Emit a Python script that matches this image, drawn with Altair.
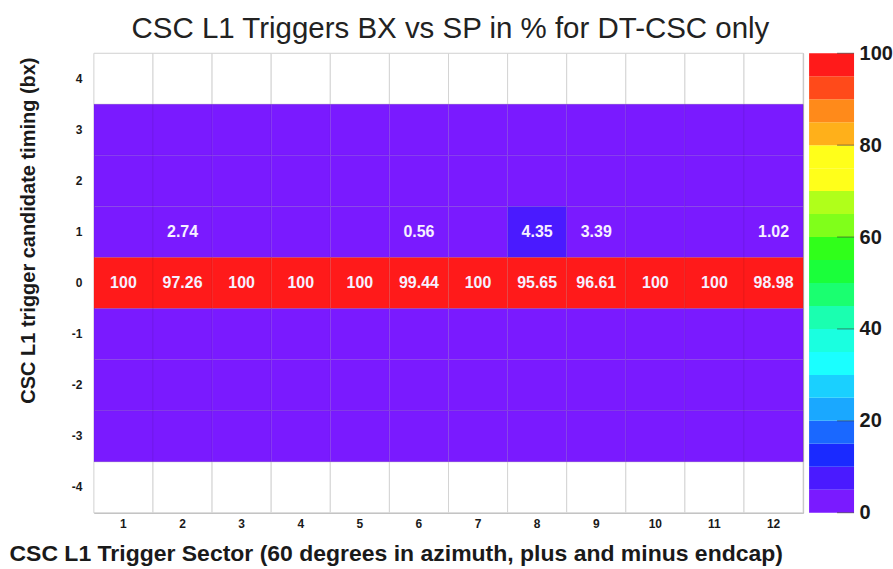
import altair as alt
import pandas as pd

# Histogram contents: percentage of CSC L1 triggers per sector and bunch crossing
sectors = [1, 2, 3, 4, 5, 6, 7, 8, 9, 10, 11, 12]
bx_rows = [4, 3, 2, 1, 0, -1, -2, -3, -4]
filled_rows = [3, 2, 1, 0, -1, -2, -3]
empty_rows = [4, -4]
bx0_pct = [100, 97.26, 100, 100, 100, 99.44, 100, 95.65, 96.61, 100, 100, 98.98]
bx1_pct = [0, 2.74, 0, 0, 0, 0.56, 0, 4.35, 3.39, 0, 0, 1.02]
other_pct = [0, 0, 0, 0, 0, 0, 0, 0, 0, 0, 0, 0]

# ROOT-like rainbow palette, 20 contour levels from 0 to 100
palette = [
    "#7a1aff", "#4a1aff", "#1a2aff", "#1a68ff", "#1aa8ff",
    "#1ad0ff", "#1affff", "#1affe0", "#1affb0", "#1aff70",
    "#1aff3a", "#30ff1a", "#80ff1a", "#b0ff1a", "#ffff1a",
    "#ffff1a", "#ffb01a", "#ff8a1a", "#ff4a1a", "#ff1a1a",
]
thresholds = [4, 10, 15, 20, 25, 30, 35, 40, 45, 50, 55, 60, 65, 70, 75, 80, 85, 90, 95]
band_lo = [0, 5, 10, 15, 20, 25, 30, 35, 40, 45, 50, 55, 60, 65, 70, 75, 80, 85, 90, 95]
bar_ticks = [0, 20, 40, 60, 80, 100]

FONT = "Liberation Sans"
TXT = "#1a1a1a"

rows = []
for bx in filled_rows:
    vals = bx0_pct if bx == 0 else (bx1_pct if bx == 1 else other_pct)
    for s, v in zip(sectors, vals):
        rows.append({"sector": s, "bx": bx, "pct": v,
                     "label": (f"{v:g}" if v > 0 else "")})
cells = pd.DataFrame(rows)
blank = pd.DataFrame([{"sector": s, "bx": b} for b in empty_rows for s in sectors])

color_scale = alt.Scale(type="threshold", domain=thresholds, range=palette)

x_enc = alt.X(
    "sector:O", sort=sectors,
    scale=alt.Scale(domain=sectors, paddingInner=0, paddingOuter=0),
    axis=alt.Axis(
        title="CSC L1 Trigger Sector (60 degrees in azimuth, plus and minus endcap)",
        labelAngle=0, ticks=False, domain=False, labelPadding=6,
        labelFont=FONT, labelFontSize=12, labelFontWeight="bold", labelColor=TXT,
        titleFont=FONT, titleFontSize=23, titleFontWeight="bold", titleColor=TXT,
        titleX=-85, titleY=48, titleAlign="left", titleBaseline="alphabetic",
    ),
)
y_enc = alt.Y(
    "bx:O", sort=bx_rows,
    scale=alt.Scale(domain=bx_rows, paddingInner=0, paddingOuter=0),
    axis=alt.Axis(
        title="CSC L1 trigger candidate timing (bx)",
        ticks=False, domain=False, labelPadding=12,
        labelFont=FONT, labelFontSize=12, labelFontWeight="bold", labelColor=TXT,
        titleFont=FONT, titleFontSize=20, titleFontWeight="bold", titleColor=TXT,
        titleAngle=270, titleX=-65, titleY=177, titleAlign="center",
        titleBaseline="middle",
    ),
)

empty_layer = alt.Chart(blank).mark_rect(
    fill="white", stroke="#d4d4d4", strokeWidth=1
).encode(x=x_enc, y=y_enc)

cell_layer = alt.Chart(cells).mark_rect(
    stroke="#000000", strokeOpacity=0.07, strokeWidth=1
).encode(
    x=x_enc, y=y_enc,
    color=alt.Color("pct:Q", scale=color_scale, legend=None),
)

text_layer = alt.Chart(cells).transform_filter("datum.pct > 0").mark_text(
    font=FONT, fontSize=16, fontWeight="bold", color="#f6f0ff"
).encode(x=x_enc, y=y_enc, text="label:N")

heat = alt.layer(empty_layer, cell_layer, text_layer).properties(
    width=710, height=460,
    view=alt.ViewBackground(stroke="#a8a8a8", strokeWidth=1, fill="white"),
)

# Colour bar
bands = pd.DataFrame({"lo": band_lo})
bands["hi"] = bands["lo"] + 5
bands["mid"] = bands["lo"] + 2.5

bar_y = alt.Y(
    "lo:Q",
    scale=alt.Scale(domain=[0, 100], nice=False, zero=True),
    axis=alt.Axis(
        orient="right", values=bar_ticks, ticks=False, domain=False, grid=False,
        labelFont=FONT, labelFontSize=20, labelFontWeight="bold", labelColor=TXT,
        labelPadding=5, title=None,
    ),
)
bar_rect = alt.Chart(bands).mark_rect().encode(
    y=bar_y, y2="hi:Q",
    x=alt.value(0), x2=alt.value(45),
    color=alt.Color("mid:Q", scale=color_scale, legend=None),
)
bar_tick = alt.Chart(pd.DataFrame({"v": bar_ticks})).mark_rule(
    color="#333333", strokeWidth=1, opacity=0.6
).encode(y=alt.Y("v:Q"), x=alt.value(28), x2=alt.value(45))

cbar = alt.layer(bar_rect, bar_tick).properties(
    width=45, height=460,
    view=alt.ViewBackground(stroke=None),
)

chart = alt.hconcat(heat, cbar, spacing=5).properties(
    title=alt.TitleParams(
        "CSC L1 Triggers BX vs SP in % for DT-CSC only",
        font=FONT, fontSize=29.5, fontWeight="normal", color="#222222",
        anchor="middle", offset=-1,
    ),
    padding={"left": 8, "top": 13, "right": 0, "bottom": 0},
    background="white",
)

chart.save("out.html", embed_options={"renderer": "svg", "actions": False})
